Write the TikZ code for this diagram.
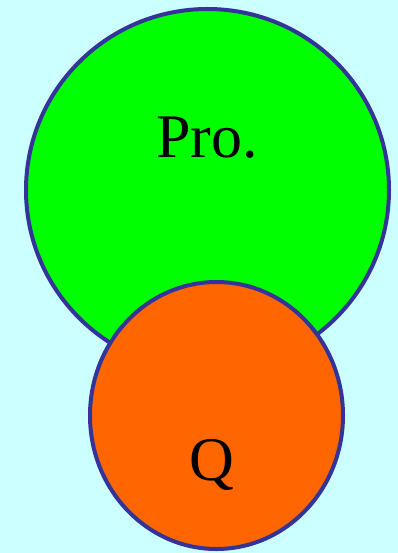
\documentclass[tikz,border=0pt]{standalone}
\usepackage{fontspec}
\setmainfont{Liberation Serif}
\definecolor{bgcyan}{HTML}{CCFFFF}
\definecolor{edgeblue}{HTML}{333399}
\definecolor{greenfill}{HTML}{00FF00}
\definecolor{orangefill}{HTML}{FF6600}
\begin{document}
\begin{tikzpicture}[x=1pt,y=-1pt,
  blob/.style={draw=edgeblue,line width=4pt},
  lbl/.style={font=\fontsize{62}{62}\selectfont,anchor=base,inner sep=0pt}]
\fill[bgcyan] (0,0) rectangle (398,553);
\useasboundingbox (0,0) rectangle (398,553);
\draw[blob,fill=greenfill] (207.5,190) ellipse [x radius=181.5, y radius=181];
\draw[blob,fill=orangefill] (216.5,415.5) ellipse [x radius=126.5, y radius=133.5];
\node[lbl] (pro) at (207,158) {Pro.};
\node[lbl] (q) at (212,480) {Q};
\end{tikzpicture}
\end{document}
